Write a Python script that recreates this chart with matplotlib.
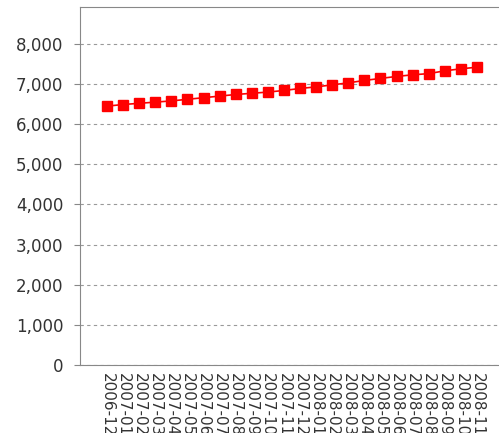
import matplotlib.pyplot as plt
from matplotlib.ticker import FuncFormatter

months = ['2006-12', '2007-01', '2007-02', '2007-03', '2007-04', '2007-05',
          '2007-06', '2007-07', '2007-08', '2007-09', '2007-10', '2007-11',
          '2007-12', '2008-01', '2008-02', '2008-03', '2008-04', '2008-05',
          '2008-06', '2008-07', '2008-08', '2008-09', '2008-10', '2008-11']
values = [6450, 6490, 6520, 6550, 6580, 6620, 6660, 6700, 6740, 6770, 6800, 6840,
          6890, 6930, 6980, 7030, 7090, 7140, 7190, 7230, 7260, 7330, 7380, 7420]
y_ticks = [0, 1000, 2000, 3000, 4000, 5000, 6000, 7000, 8000]

fig = plt.figure(figsize=(4.99, 4.33), dpi=100)
ax = fig.add_axes([80 / 499, 1 - 365 / 433, 424 / 499, 358 / 433])

x = range(len(months))
ax.plot(x, values, '-s', color='#ff0000', markersize=7.5, linewidth=1.2)

ax.set_xlim(-1.68, len(months) - 1 + 1.68)
ax.set_ylim(0, 8920)
ax.set_yticks(y_ticks)
ax.yaxis.set_major_formatter(FuncFormatter(lambda v, p: '{:,}'.format(int(v))))
ax.set_xticks(list(x))
ax.set_xticklabels(months, rotation=270, fontsize=11, color='#333333')
ax.tick_params(axis='x', length=0, pad=6)
ax.tick_params(axis='y', length=4, color='#888888', labelsize=12, labelcolor='#333333', pad=8)

# grille pointillée fine comme la référence
ax.grid(axis='y', linestyle=(0, (3, 3)), color='#999999', linewidth=0.8)
ax.set_axisbelow(True)
for side in ['left', 'top', 'bottom', 'right']:
    ax.spines[side].set_color('#888888')

fig.savefig('out.png', dpi=100)
